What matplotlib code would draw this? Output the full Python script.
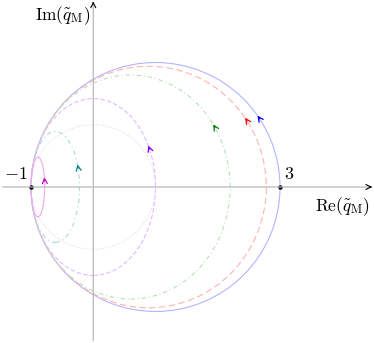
import numpy as np
import matplotlib
matplotlib.use("Agg")
import matplotlib.pyplot as plt
from matplotlib.patches import Ellipse

plt.rcParams['mathtext.fontset'] = 'cm'
plt.rcParams['font.family'] = 'serif'

# loci: centre on real axis, semi axes (re, im), angle of the arrow (deg)
names = ['blue', 'red', 'green', 'violet', 'teal', 'magenta']
centres = [1.0, 0.89, 0.6, 0.0, -0.61, -0.89]
semi_re = [2.0, 1.89, 1.6, 1.0, 0.39, 0.11]
semi_im = [2.0, 1.94, 1.8, 1.42, 0.89, 0.48]
arrow_deg = [35, 35, 34, 28, 24, 19]

# unit circle (reference)
ref_centre, ref_radius = 0.0, 1.0

marked_pts = [-1, 3]
marked_lbl = [r'$-1$', r'$3$']

line_col = ['#b4b4ff', '#ffb4b4', '#b8e0b8', '#dcbcff', '#a8d8d8', '#f0a8f0']
arrow_col = ['#0000ff', '#ff0000', '#008000', '#8000ff', '#008080', '#d000d0']
styles = ['-', (0, (6, 3)), (0, (4, 2.5, 1, 2.5)), (0, (4, 2)), (0, (4, 3, 1, 3)), '-']

fig = plt.figure(figsize=(3.74, 3.43), dpi=100)
ax = fig.add_axes([0, 0, 1, 1])
ax.set_xlim(-1.498, 4.51)
ax.set_ylim(-2.506, 3.004)
ax.set_aspect('equal')
ax.axis('off')

# axes
ax.annotate('', xy=(4.49, 0), xytext=(-1.5, 0),
            arrowprops=dict(arrowstyle='-', color='#b8b8b8', lw=0.9))
ax.annotate('', xy=(0, 2.99), xytext=(0, -2.51),
            arrowprops=dict(arrowstyle='-', color='#b8b8b8', lw=0.9))
ax.annotate('', xy=(4.48, 0), xytext=(4.40, 0),
            arrowprops=dict(arrowstyle='->', color='black', lw=0.8, mutation_scale=9))
ax.annotate('', xy=(0, 2.98), xytext=(0, 2.90),
            arrowprops=dict(arrowstyle='->', color='black', lw=0.8, mutation_scale=9))

ax.add_patch(Ellipse((ref_centre, 0), 2*ref_radius, 2*ref_radius, fill=False,
                     ec='#dcdcdc', lw=0.7, ls=(0, (1, 1.5))))

for i in range(len(names)):
    c, a, b = centres[i], semi_re[i], semi_im[i]
    ax.add_patch(Ellipse((c, 0), 2*a, 2*b, fill=False, ec=line_col[i],
                         lw=0.8, ls=styles[i]))
    t = np.deg2rad(arrow_deg[i])
    px, py = c + a*np.cos(t), b*np.sin(t)
    tx, ty = -a*np.sin(t), b*np.cos(t)
    n = np.hypot(tx, ty)
    d = 0.06
    ax.annotate('', xy=(px, py), xytext=(px - d*tx/n, py - d*ty/n),
                arrowprops=dict(arrowstyle='->', color=arrow_col[i], lw=0.9,
                                mutation_scale=9, shrinkA=0, shrinkB=0))

ax.plot(marked_pts, [0, 0], 'o', color='black', ms=2.2)
ax.text(-1.05, 0.06, marked_lbl[0], fontsize=13, ha='right', va='bottom')
ax.text(3.06, 0.06, marked_lbl[1], fontsize=13, ha='left', va='bottom')

ax.text(-0.05, 2.76, r'$\mathrm{Im}(\tilde{q}_{\mathrm{M}})$', fontsize=12.5,
        ha='right', va='center')
ax.text(4.45, -0.32, r'$\mathrm{Re}(\tilde{q}_{\mathrm{M}})$', fontsize=12.5,
        ha='right', va='center')

fig.savefig('out.png', dpi=100)
